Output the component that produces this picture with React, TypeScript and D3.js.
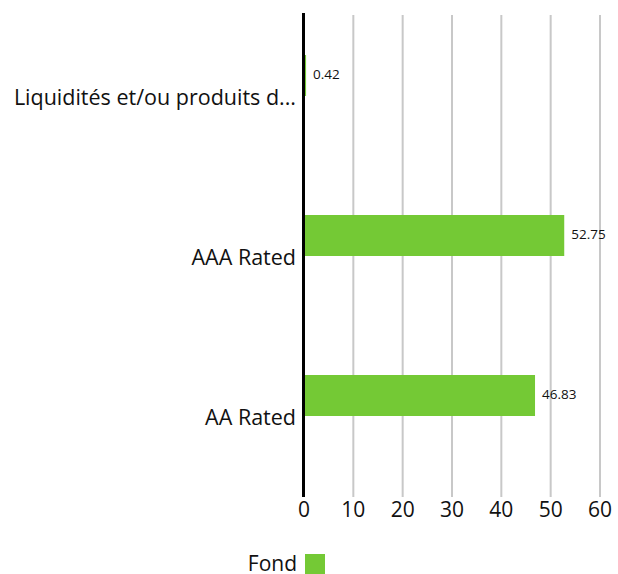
import React from "react";
import * as d3 from "d3";

const categories = ["Liquidités et/ou produits d...", "AAA Rated", "AA Rated"];
const values = [0.42, 52.75, 46.83];
const ticks = [0, 10, 20, 30, 40, 50, 60];
const seriesName = "Fond";

const W = 618;
const H = 574;
const FONT = "'Open Sans', sans-serif";
const GREEN = "#74c935";

export default function App() {
  const x = d3.scaleLinear().domain([0, 60]).range([304, 600]);
  const y = d3.scaleBand<string>().domain(categories).range([17, 497]);
  const barH = 41;
  const top = 13;
  const bottom = 497;

  return (
    <svg width={W} height={H} style={{ position: "absolute", left: 0, top: 0, display: "block" }} fontFamily={FONT}>
      {ticks.map((t) => (
        <g key={t}>
          {t !== 0 && (
            <line x1={x(t)} x2={x(t)} y1={top + 2} y2={bottom} stroke="#c8c8c8" strokeWidth={2} />
          )}
          <text x={x(t)} y={517} textAnchor="middle" fontSize={21} fill="#111">
            {t}
          </text>
        </g>
      ))}
      {categories.map((c, i) => {
        const cy = (y(c) as number) + y.bandwidth() / 2;
        return (
          <g key={c}>
            <rect x={x(0)} y={cy - barH - 1} width={x(values[i]) - x(0)} height={barH} fill={GREEN} />
            <text x={x(values[i]) + 7} y={cy - barH / 2 - 2} dy="0.35em" fontSize={13.5} fill="#111">
              {values[i]}
            </text>
            <text x={296} y={cy} dy="0.35em" textAnchor="end" fontSize={21.5} fill="#111">
              {c}
            </text>
          </g>
        );
      })}
      <line x1={x(0) - 0.5} x2={x(0) - 0.5} y1={top} y2={bottom} stroke="#000" strokeWidth={3} />
      <text x={297} y={571} textAnchor="end" fontSize={21} fill="#111">
        {seriesName}
      </text>
      <rect x={305} y={554} width={20} height={20} fill={GREEN} />
    </svg>
  );
}
